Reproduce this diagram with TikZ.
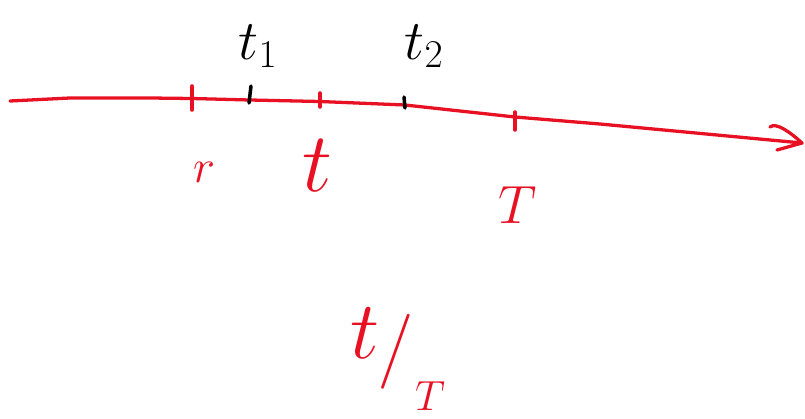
\RequirePackage{fix-cm}
\documentclass[tikz,border=0pt]{standalone}
\definecolor{handred}{RGB}{232,17,35}
\tikzset{
  axisline/.style={handred, line width=2.8pt, line cap=round, line join=round},
  redtick/.style={handred, line width=3pt, line cap=round},
  blacktick/.style={black, line width=3pt, line cap=round},
  blacklabel/.style={text=black, inner sep=0pt},
  redlabel/.style={text=handred, inner sep=0pt},
}
\begin{document}
\begin{tikzpicture}[x=0.03cm, y=-0.03cm]
\useasboundingbox (0,0) rectangle (805,419);
% axis
\coordinate (start) at (10,101);
\coordinate (tip) at (802,143);
\coordinate (hu) at (770,127);
\coordinate (hl) at (777,150);
\draw[axisline] (start) -- (70,98) -- (150,98) -- (192,98.5) -- (250,100) -- (320,101.5) -- (405,105) -- (515,117) -- (600,124) -- (tip);
\draw[axisline] (hu) .. controls (776,122) and (790,132) .. (tip) -- (hl);
% ticks
\coordinate (r1) at (192,86); \coordinate (r2) at (192,110);
\draw[redtick] (r1) -- (r2);
\coordinate (s1) at (320,93); \coordinate (s2) at (320,107);
\draw[redtick] (s1) -- (s2);
\coordinate (u1) at (515,112); \coordinate (u2) at (515,130);
\draw[redtick] (u1) -- (u2);
\coordinate (b1) at (251,86); \coordinate (b2) at (249,103);
\draw[blacktick] (b1) -- (b2);
\coordinate (c1) at (404,97); \coordinate (c2) at (405,108);
\draw[blacktick] (c1) -- (c2);
% labels
\node[blacklabel, font=\fontsize{48}{48}\selectfont] (t1) at (258,46) {$t_1$};
\node[blacklabel, font=\fontsize{48}{48}\selectfont] (t2) at (424,46) {$t_2$};
\node[redlabel, font=\fontsize{40}{40}\selectfont] (r) at (204,172) {$r$};
\node[redlabel, font=\fontsize{72}{72}\selectfont] (t) at (317,166) {$t$};
\node[redlabel, font=\fontsize{46}{46}\selectfont] (T) at (518,205) {$T$};
\node[redlabel, font=\fontsize{70}{70}\selectfont] (tt) at (365,333) {$t$};
\node[redlabel, font=\fontsize{64}{64}\selectfont] (sl) at (396,352) {$/$};
\node[redlabel, font=\fontsize{36}{36}\selectfont] (TT) at (430,396) {$T$};
\end{tikzpicture}
\end{document}
